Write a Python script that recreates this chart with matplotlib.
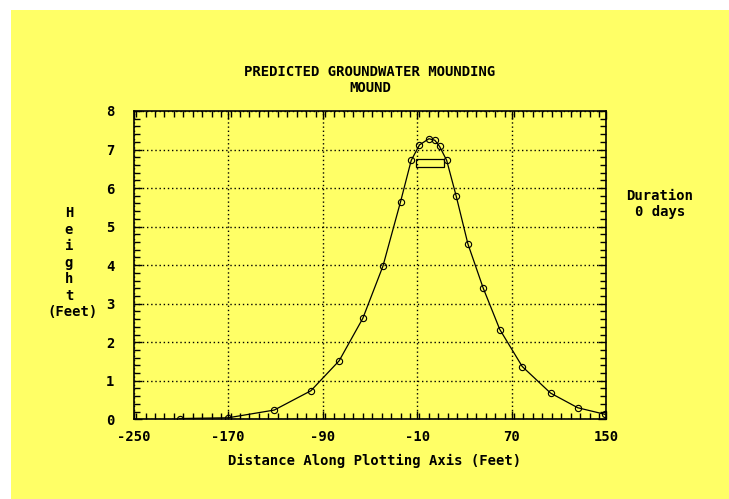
import matplotlib.pyplot as plt
from matplotlib.patches import Rectangle
from matplotlib.ticker import MultipleLocator

# mound profile
dist = [-211, -170, -131, -100, -76, -56, -39, -24, -15, -8, 0, 5, 9, 15, 23, 33, 46, 60, 79, 103, 126, 149]
height = [0.02, 0.04, 0.24, 0.74, 1.52, 2.62, 3.97, 5.65, 6.72, 7.12, 7.28, 7.24, 7.08, 6.72, 5.80,
          4.55, 3.40, 2.33, 1.37, 0.68, 0.30, 0.13]
xticks = [-250, -170, -90, -10, 70, 150]
yticks = [0, 1, 2, 3, 4, 5, 6, 7, 8]
# recharge area box
box_x = [-11, 13]
box_y = [6.55, 6.75]

yellow = '#ffff66'
font = dict(family='DejaVu Sans Mono', weight='bold', size=10)

fig = plt.figure(figsize=(7.29, 4.99), dpi=100)
fig.patch.set_facecolor('white')
fig.patches.append(Rectangle((11 / 729, 0), 1, 1 - 10 / 499, transform=fig.transFigure,
                             facecolor=yellow, edgecolor='none', zorder=-1))

ax = fig.add_axes([0.1834, 0.1597, 0.648, 0.6179])
ax.set_facecolor(yellow)
ax.plot(dist, height, color='black', lw=0.9, marker='o', ms=4.5, mfc='none', mec='black', mew=0.8)
ax.add_patch(Rectangle((box_x[0], box_y[0]), box_x[1] - box_x[0], box_y[1] - box_y[0],
                       fill=False, edgecolor='black', lw=0.9))

ax.set_xlim(-250, 150)
ax.set_ylim(0, 8)
ax.set_xticks(xticks)
ax.set_yticks(yticks)
ax.xaxis.set_minor_locator(MultipleLocator(8))
ax.yaxis.set_minor_locator(MultipleLocator(0.2))
ax.tick_params(which='both', direction='in', top=True, right=True, color='black', width=1)
ax.tick_params(which='major', length=6)
ax.tick_params(which='minor', length=4)
ax.tick_params(axis='x', which='major', pad=8)
ax.tick_params(axis='y', which='major', pad=14)
ax.set_xticklabels([str(v) for v in xticks], **font)
ax.set_yticklabels([str(v) for v in yticks], **font)
ax.grid(which='major', color='black', linestyle=(0, (1, 2)), lw=1)
for s in ax.spines.values():
    s.set_linewidth(1.2)

fig.text(370 / 729, 1 - 72 / 499, 'PREDICTED GROUNDWATER MOUNDING', ha='center', va='center', **font)
fig.text(370 / 729, 1 - 88 / 499, 'MOUND', ha='center', va='center', **font)
fig.text(375 / 729, 1 - 461 / 499, 'Distance Along Plotting Axis (Feet)', ha='center', va='center', **font)

for i, ch in enumerate('Height'):
    fig.text(69 / 729, 1 - (213 + i * 16.6) / 499, ch, ha='center', va='center', **font)
fig.text(73 / 729, 1 - 312 / 499, '(Feet)', ha='center', va='center', **font)

fig.text(660 / 729, 1 - 196 / 499, 'Duration', ha='center', va='center', **font)
fig.text(660 / 729, 1 - 212 / 499, '0 days', ha='center', va='center', **font)

fig.savefig('out.png', dpi=100, facecolor=fig.get_facecolor())
